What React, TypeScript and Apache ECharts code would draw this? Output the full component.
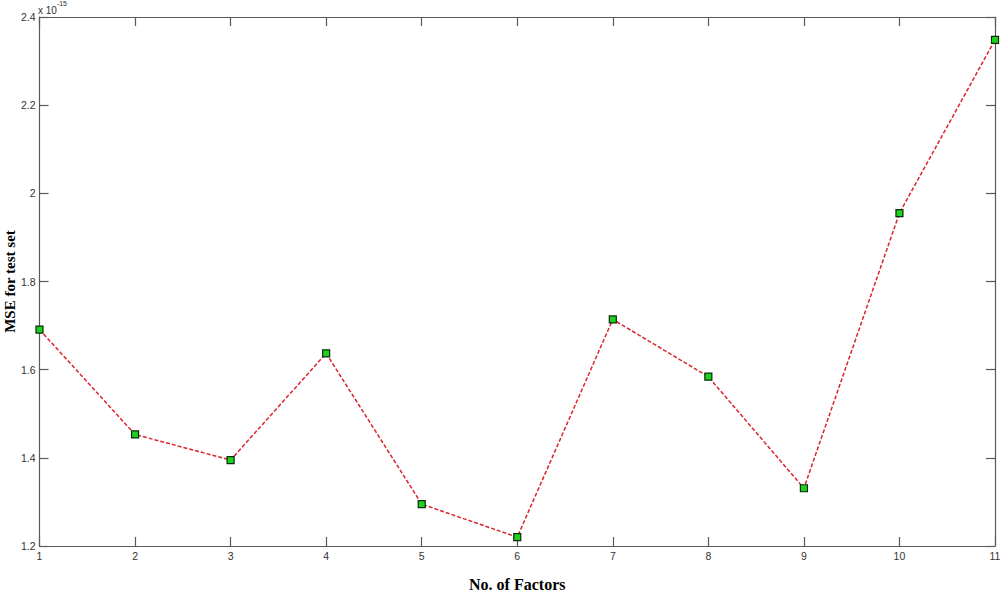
import { useEffect, useRef } from 'react'
import * as echarts from 'echarts'

// No. of factors and MSE (x 10^-15)
const factors = [1, 2, 3, 4, 5, 6, 7, 8, 9, 10, 11]
const mse = [1.691, 1.453, 1.395, 1.637, 1.295, 1.220, 1.714, 1.584, 1.331, 1.955, 2.348]

const axisColor = '#5a5a5a'
const labelColor = '#333'

export default function App() {
  const chartRef = useRef<HTMLDivElement>(null)

  useEffect(() => {
    if (!chartRef.current) return
    const chart = echarts.init(chartRef.current, undefined, { renderer: 'svg' })

    const common = {
      type: 'value' as const,
      axisLine: { show: true, lineStyle: { color: axisColor, width: 1.2 } },
      axisTick: { show: true, inside: true, length: 9, lineStyle: { color: axisColor, width: 1.2 } },
      splitLine: { show: false },
    }

    chart.setOption({
      animation: false,
      backgroundColor: '#fff',
      grid: { left: 39.5, right: 5, top: 17, bottom: 48, containLabel: false, outerBoundsMode: 'none' },
      graphic: [
        {
          type: 'text',
          left: 38,
          top: 0,
          style: {
            text: '{a|x 10}{b|-15}',
            rich: {
              a: { fontSize: 10, fontFamily: 'Liberation Sans, Arial', fill: labelColor, padding: [5, 0, 0, 0] },
              b: { fontSize: 7, fontFamily: 'Liberation Sans, Arial', fill: labelColor, verticalAlign: 'top' },
            },
          },
        },
      ],
      xAxis: [
        {
          ...common,
          min: 1,
          max: 11,
          interval: 1,
          position: 'bottom',
          axisLabel: { color: labelColor, fontSize: 10.5, fontFamily: 'Liberation Sans, Arial', margin: 4 },
          name: 'No. of Factors',
          nameLocation: 'middle',
          nameGap: 30,
          nameMoveOverlap: false,
          nameTextStyle: { fontFamily: 'Liberation Serif, Times New Roman, serif', fontWeight: 'bold', fontSize: 16, color: '#000' },
        },
        {
          ...common,
          min: 1,
          max: 11,
          interval: 1,
          position: 'top',
          axisLabel: { show: false },
        },
      ],
      yAxis: [
        {
          ...common,
          min: 1.2,
          max: 2.4,
          interval: 0.2,
          position: 'left',
          axisLabel: {
            color: labelColor,
            fontSize: 10.5,
            fontFamily: 'Liberation Sans, Arial',
            margin: 4,
            formatter: (v: number) => String(Math.round(v * 10) / 10),
          },
          name: 'MSE for test set',
          nameLocation: 'middle',
          nameRotate: 90,
          nameGap: 22,
          nameMoveOverlap: false,
          nameTextStyle: { fontFamily: 'Liberation Serif, Times New Roman, serif', fontWeight: 'bold', fontSize: 15, color: '#000' },
        },
        {
          ...common,
          min: 1.2,
          max: 2.4,
          interval: 0.2,
          position: 'right',
          axisLabel: { show: false },
        },
      ],
      series: [
        {
          type: 'line',
          data: factors.map((f, i) => [f, mse[i]]),
          xAxisIndex: 0,
          yAxisIndex: 0,
          symbol: 'rect',
          symbolSize: 7,
          lineStyle: { color: '#d8262e', width: 1.5, type: [4, 2] },
          itemStyle: { color: '#1fd11f', borderColor: '#0a2a0a', borderWidth: 1.2 },
          clip: false,
        },
      ],
    })

    return () => chart.dispose()
  }, [])

  return (
    <div
      ref={chartRef}
      style={{ position: 'absolute', left: 0, top: 0, width: 1000, height: 594 }}
    />
  )
}
